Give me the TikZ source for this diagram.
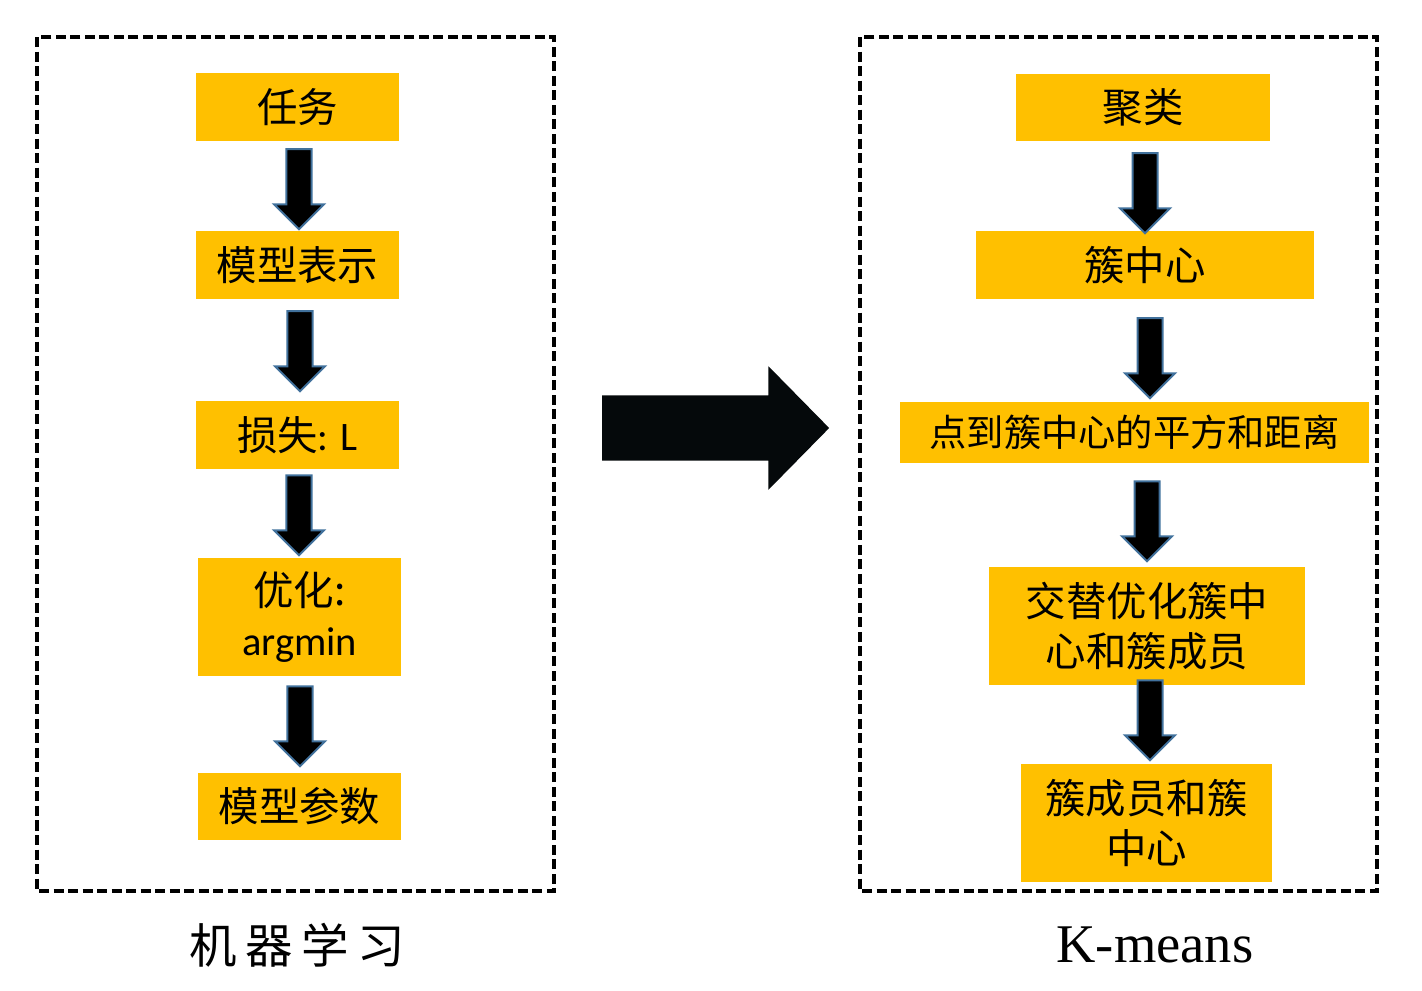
\documentclass[tikz,border=0pt]{standalone}
\usepackage{fontspec}
\setmainfont{Liberation Serif}
\newfontfamily\cjk{Noto Sans CJK SC}
\newfontfamily\calibri{Carlito}
\usepackage{tikz}
\usetikzlibrary{shapes.arrows, positioning}
\definecolor{boxgold}{HTML}{FFC000}
\definecolor{arrowedge}{HTML}{41719C}
\definecolor{arrowblack}{HTML}{05090B}
\tikzset{
  stepnode/.style={fill=boxgold, minimum height=0.68cm, inner sep=0pt, align=center, font=\cjk\fontsize{11.5}{14.2}\selectfont},
  downarrow/.style={single arrow, shape border rotate=270, fill=black, draw=arrowedge, line width=0.02cm, minimum height=0.8cm, inner sep=0.115cm, single arrow head extend=0.125cm},
  bigarrow/.style={single arrow, fill=arrowblack, minimum height=2.27cm, inner sep=0.32cm, single arrow head extend=0.29cm, single arrow tip angle=91},
  framebox/.style={draw, line width=0.04cm, dash pattern=on 0.1cm off 0.045cm},
  caption/.style={inner sep=0pt}
}

\begin{document}
\begin{tikzpicture}[x=0.01cm, y=-0.01cm]
\useasboundingbox (0,0) rectangle (1422,990);

% Frames
\draw[framebox] (37,37) rectangle (554,891);
\draw[framebox] (860,37) rectangle (1377,891);

% Left column
\node[stepnode, minimum width=2.03cm] (task) at (297.5,107) {任务};
\node[stepnode, minimum width=2.03cm] (model) at (297.5,265) {模型表示};
\node[stepnode, minimum width=2.03cm] (loss) at (297.5,435) {损失{\calibri : L}};
\node[stepnode, minimum width=2.03cm, minimum height=1.18cm] (optim) at (299.5,617) {优化:\\{\calibri argmin}};
\node[stepnode, minimum width=2.03cm, minimum height=0.67cm] (params) at (299.5,806.5) {模型参数};

\node[downarrow] (la1) at (299,183) {};
\node[downarrow] (la2) at (300,345) {};
\node[downarrow] (la3) at (299,509) {};
\node[downarrow] (la4) at (300,720) {};

% Right column
\node[stepnode, minimum width=2.54cm, minimum height=0.67cm] (cluster) at (1143,107.5) {聚类};
\node[stepnode, minimum width=3.38cm] (centers) at (1145,265) {簇中心};
\node[stepnode, minimum width=4.69cm, minimum height=0.61cm, font=\cjk\fontsize{10.6}{13}\selectfont] (dist) at (1134.5,432.5) {点到簇中心的平方和距离};
\node[stepnode, minimum width=3.16cm, minimum height=1.18cm] (alt) at (1147,626) {交替优化簇中\\心和簇成员};
\node[stepnode, minimum width=2.51cm, minimum height=1.18cm] (result) at (1146.5,823) {簇成员和簇\\中心};

\node[downarrow] (ra1) at (1145,187) {};
\node[downarrow] (ra2) at (1150,352) {};
\node[downarrow] (ra3) at (1147,515) {};
\node[downarrow] (ra4) at (1150,714) {};

% Transfer arrow
\node[bigarrow] (shift) at (699.5,428) {};

% Captions
\node[caption, font=\cjk\fontsize{13.5}{16}\selectfont] (mllabel) at (297,945) {机\hspace{0.18em}器\hspace{0.18em}学\hspace{0.18em}习};
\node[caption, font=\fontsize{15.5}{18}\selectfont] (kmlabel) at (1155,945) {K-means};

\end{tikzpicture}
\end{document}
